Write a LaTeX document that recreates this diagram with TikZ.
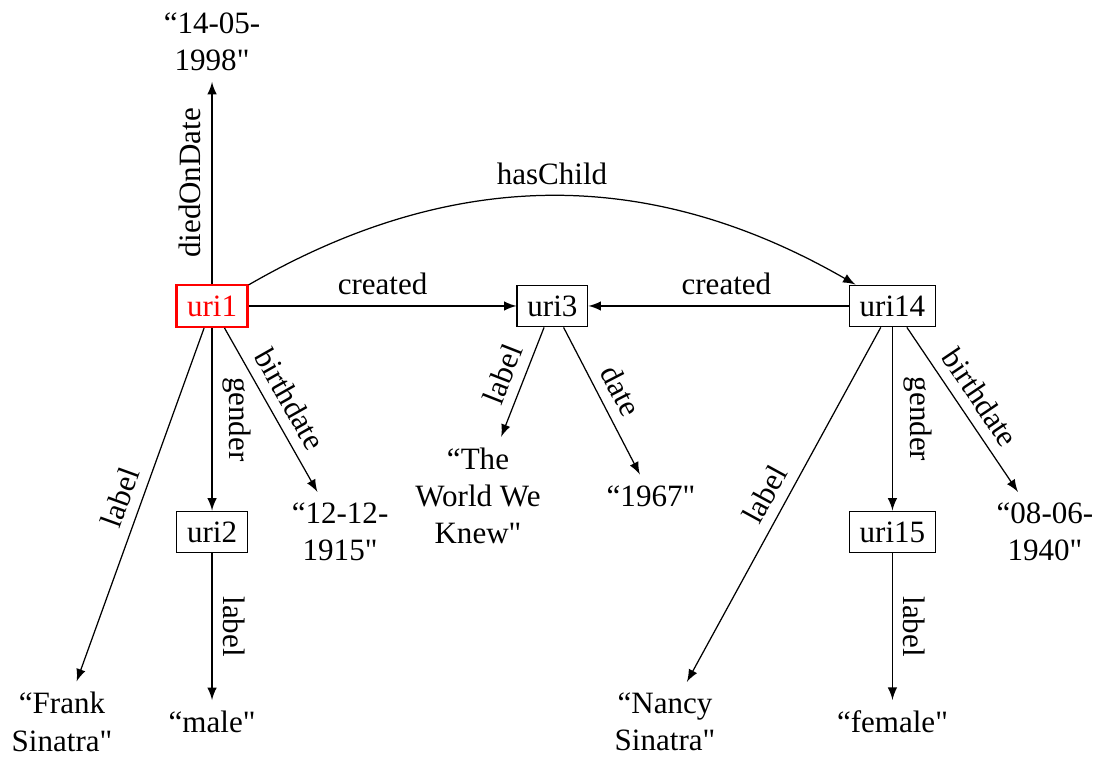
\documentclass[tikz,border=0pt]{standalone}
\usepackage{fontspec}
\setmainfont{Liberation Serif}[Ligatures=TeXOff]
\usepackage{tikz}
\usetikzlibrary{arrows}
\usetikzlibrary{positioning}
\tikzset{
    urinode/.style = {rectangle, draw=black, align=center},
    urinoder/.style = {rectangle, thick, draw=red, text=red, align=center},
    litnode/.style = {align=center},
}
\begin{document}
\begin{tikzpicture}[>=latex]
\tikzset{
    edgen/.style = {->},
    edgev/.style = {->, every node/.append style={allow upside down}}
}
\useasboundingbox (-2.400,-5.115) rectangle (10.016,3.463);
\node[urinoder] at (0.000,0.000) (uri1) {uri1};
\node[urinode] at (3.853,0.000) (uri3) {uri3};
\node[urinode] at (7.701,0.000) (uri14) {uri14};
\node[urinode] at (0.000,-2.558) (uri2) {uri2};
\node[urinode] at (7.701,-2.558) (uri15) {uri15};
%
\node[litnode] at (0.000,2.990) (died) {“14-05-\\1998"};
\node[litnode] at (1.449,-2.558) (birth1) {“12-12-\\1915"};
\node[litnode] at (-1.698,-4.708) (frank) {“Frank\\Sinatra"};
\node[litnode] at (0.000,-4.708) (male) {“male"};
\node[litnode] at (3.010,-2.150) (knew) {“The\\World We\\Knew"};
\node[litnode] at (4.968,-2.150) (year) {“1967"};
\node[litnode] at (5.127,-4.708) (nancy) {“Nancy\\Sinatra"};
\node[litnode] at (7.701,-4.708) (female) {“female"};
\node[litnode] at (9.427,-2.558) (birth2) {“08-06-\\1940"};
%
\draw[edgev] (uri1) edge node[above,sloped] {diedOnDate} (died);
\draw[edgen] (uri1) edge node[above] {created} (uri3);
\draw[edgen] (uri14) edge node[above,pos=0.47] {created} (uri3);
\draw[edgen] (uri1) edge[bend left=30] node[above] {hasChild} (uri14);
%
\draw[edgen] (uri1) edge node[above,sloped] {label} (frank);
\draw[edgev] (uri1) edge node[above,sloped] {gender} (uri2);
\draw[edgen] (uri1) edge node[above,sloped] {birthdate} (birth1);
\draw[edgev] (uri2) edge node[above,sloped] {label} (male);
%
\draw[edgen] (uri3) edge node[above,sloped] {label} (knew);
\draw[edgen] (uri3) edge node[above,sloped] {date} (year);
%
\draw[edgen] (uri14) edge node[above,sloped] {label} (nancy);
\draw[edgev] (uri14) edge node[above,sloped] {gender} (uri15);
\draw[edgen] (uri14) edge node[above,sloped] {birthdate} (birth2);
\draw[edgev] (uri15) edge node[above,sloped] {label} (female);
\end{tikzpicture}
\end{document}
